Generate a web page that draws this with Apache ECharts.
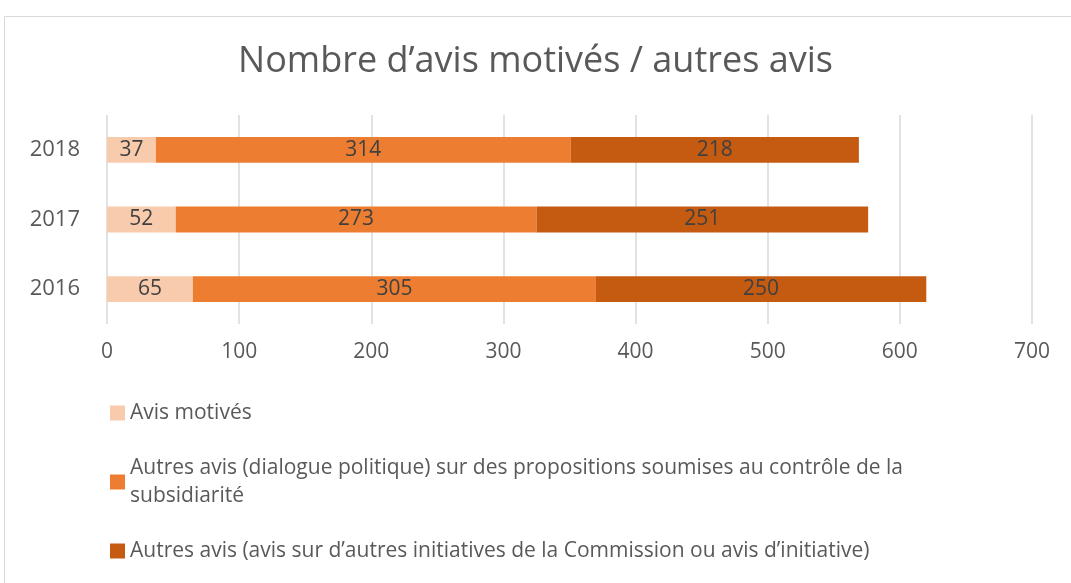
<!DOCTYPE html>
<html>
<head>
<meta charset="utf-8">
<script src="https://cdn.jsdelivr.net/npm/echarts@6/dist/echarts.min.js"></script>
<style>
html, body { margin: 0; padding: 0; background: #fff; }
#chart { width: 1071px; height: 583px; }
</style>
</head>
<body>
<div id="chart"></div>
<script>
var years = ['2016', '2017', '2018'];
var avisMotives = [65, 52, 37];
var dialoguePolitique = [305, 273, 314];
var autresInitiatives = [250, 251, 218];
var seriesNames = [
    'Avis motivés',
    'Autres avis (dialogue politique) sur des propositions soumises au contrôle de la subsidiarité',
    'Autres avis (avis sur d\u2019autres initiatives de la Commission ou avis d\u2019initiative)'
];
var colors = ['#F8CBAD', '#ED7D31', '#C55A11'];

var chart = echarts.init(document.getElementById('chart'));
var font = '"Open Sans", Lato, sans-serif';

function makeSeries(i, data) {
    return {
        name: seriesNames[i],
        type: 'bar',
        stack: 'total',
        data: data,
        barCategoryGap: '63%',
        itemStyle: { color: colors[i] },
        label: {
            show: true,
            position: 'inside',
            color: '#404040',
            fontSize: 21,
            fontFamily: font
        }
    };
}

option = {
    backgroundColor: '#fff',
    animation: false,
    graphic: [{
        type: 'rect',
        shape: { x: 4.5, y: 16.5, width: 1080, height: 600 },
        style: { fill: 'none', stroke: '#d9d9d9', lineWidth: 1 }
    }],
    title: {
        text: 'Nombre d\u2019avis motivés / autres avis',
        left: 'center',
        top: 39,
        textStyle: { color: '#595959', fontSize: 36, fontWeight: 'normal', fontFamily: font }
    },
    legend: {
        orient: 'vertical',
        left: 105,
        top: 394,
        itemWidth: 15,
        itemHeight: 15,
        itemGap: 27,
        icon: 'rect',
        data: seriesNames,
        textStyle: {
            color: '#595959',
            fontSize: 21,
            fontFamily: font,
            lineHeight: 28,
            width: 860,
            overflow: 'break'
        }
    },
    grid: {
        left: 107,
        right: 39,
        top: 115,
        height: 209,
        containLabel: false
    },
    xAxis: {
        type: 'value',
        min: 0,
        max: 700,
        interval: 100,
        axisLine: { show: false },
        axisTick: { show: false },
        splitLine: { lineStyle: { color: '#d9d9d9', width: 1.5 } },
        axisLabel: { color: '#595959', fontSize: 21, fontFamily: font, margin: 18 }
    },
    yAxis: {
        type: 'category',
        data: years,
        axisLine: { show: false },
        axisTick: { show: false },
        axisLabel: { color: '#595959', fontSize: 22, fontFamily: font, margin: 27 }
    },
    series: [
        makeSeries(0, avisMotives),
        makeSeries(1, dialoguePolitique),
        makeSeries(2, autresInitiatives)
    ]
};

chart.setOption(option);
</script>
</body>
</html>
